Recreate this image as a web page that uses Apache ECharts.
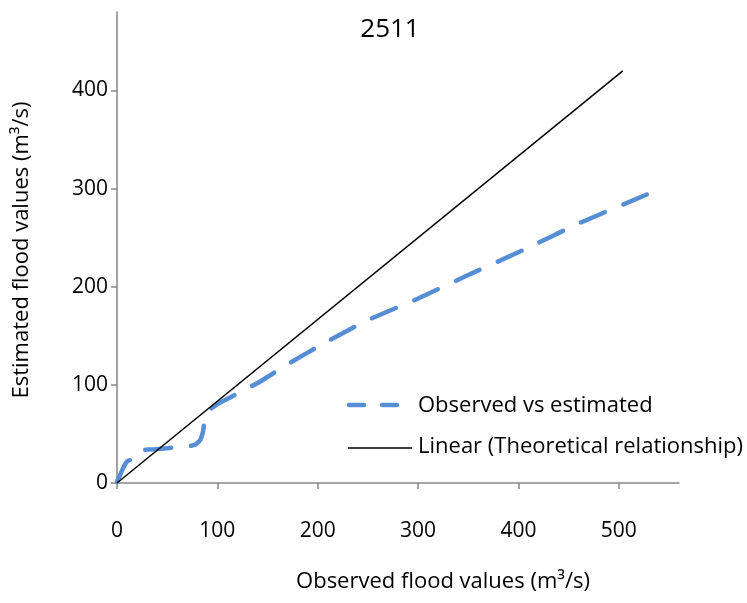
<!DOCTYPE html>
<html>
<head>
<meta charset="utf-8">
<script src="https://cdn.jsdelivr.net/npm/echarts@6/dist/echarts.min.js"></script>
<style>html,body{margin:0;padding:0;background:#fff}#c{width:747px;height:603px}</style>
</head>
<body>
<div id="c"></div>
<script>
const titleText = '2511';
const xTicks = [0, 100, 200, 300, 400, 500];
const yTicks = [0, 100, 200, 300, 400];
const observed = [0, 3, 6, 10, 15, 19, 22, 25, 38, 50, 60, 71, 78, 83, 86, 87, 89, 94, 101, 118, 142, 170, 209, 250, 300, 350, 404, 461, 528];
const estimated = [1, 8, 15, 22, 24, 26, 32, 33.5, 34.5, 35.5, 36.5, 37.5, 39, 44, 54, 64, 71, 76, 81, 90, 103, 121, 144, 166, 188, 212, 237, 265, 294];
const linearX = [0, 504];
const linearY = [0, 420];
const seriesNames = ['Observed vs estimated', 'Linear (Theoretical relationship)'];
const xTitle = 'Observed flood values (m³/s)';
const yTitle = 'Estimated flood values (m³/s)';

const FONT = 'Open Sans';
const BLUE = '#558ED5';
const chart = echarts.init(document.getElementById('c'));
chart.setOption({
  animation: false,
  backgroundColor: '#fff',
  title: {
    text: titleText, left: 385, top: 12, textAlign: 'center',
    textStyle: { fontFamily: FONT, fontSize: 26, fontWeight: 'normal', color: '#000' }
  },
  grid: { left: 117, right: 68, top: 12, bottom: 120 },
  xAxis: {
    type: 'value', min: 0, max: 560, interval: 100,
    axisLine: { lineStyle: { color: '#868686', width: 1.5 } },
    axisTick: { show: true, length: 6, customValues: xTicks, lineStyle: { color: '#868686', width: 1.5 } },
    axisLabel: { customValues: xTicks, margin: 38, fontFamily: FONT, fontSize: 21, color: '#000' },
    splitLine: { show: false }
  },
  yAxis: {
    type: 'value', min: 0, max: 480, interval: 100,
    axisLine: { show: true, lineStyle: { color: '#868686', width: 1.5 } },
    axisTick: { show: true, length: 6, customValues: yTicks, lineStyle: { color: '#868686', width: 1.5 } },
    axisLabel: { customValues: yTicks, margin: 9, fontFamily: FONT, fontSize: 21, color: '#000' },
    splitLine: { show: false }
  },
  graphic: [
    { type: 'text', x: 443, y: 582, style: { text: xTitle, align: 'center', verticalAlign: 'middle', font: '22px "' + FONT + '"', fill: '#000' } },
    { type: 'text', x: 22, y: 250, rotation: Math.PI / 2, style: { text: yTitle, align: 'center', verticalAlign: 'middle', font: '22px "' + FONT + '"', fill: '#000' } },
    { type: 'line', shape: { x1: 349, y1: 405, x2: 364, y2: 405 }, style: { stroke: BLUE, lineWidth: 4.5, lineCap: 'round' } },
    { type: 'line', shape: { x1: 382, y1: 405, x2: 397, y2: 405 }, style: { stroke: BLUE, lineWidth: 4.5, lineCap: 'round' } },
    { type: 'text', x: 418, y: 406, style: { text: seriesNames[0], align: 'left', verticalAlign: 'middle', font: '22px "' + FONT + '"', fill: '#000' } },
    { type: 'line', shape: { x1: 348, y1: 448, x2: 412, y2: 448 }, style: { stroke: '#000', lineWidth: 1.5 } },
    { type: 'text', x: 418, y: 447, style: { text: seriesNames[1], align: 'left', verticalAlign: 'middle', font: '22px "' + FONT + '"', fill: '#000' } }
  ],
  series: [
    {
      name: seriesNames[0], type: 'line', symbol: 'none', smooth: 0.15,
      data: observed.map((v, i) => [v, estimated[i]]),
      lineStyle: { color: BLUE, width: 4.5, type: [26, 20], cap: 'round' },
      itemStyle: { color: BLUE }, z: 3
    },
    {
      name: seriesNames[1], type: 'line', symbol: 'none',
      data: linearX.map((v, i) => [v, linearY[i]]),
      lineStyle: { color: '#000', width: 1.5 },
      itemStyle: { color: '#000' }, z: 4
    }
  ]
});
</script>
</body>
</html>
